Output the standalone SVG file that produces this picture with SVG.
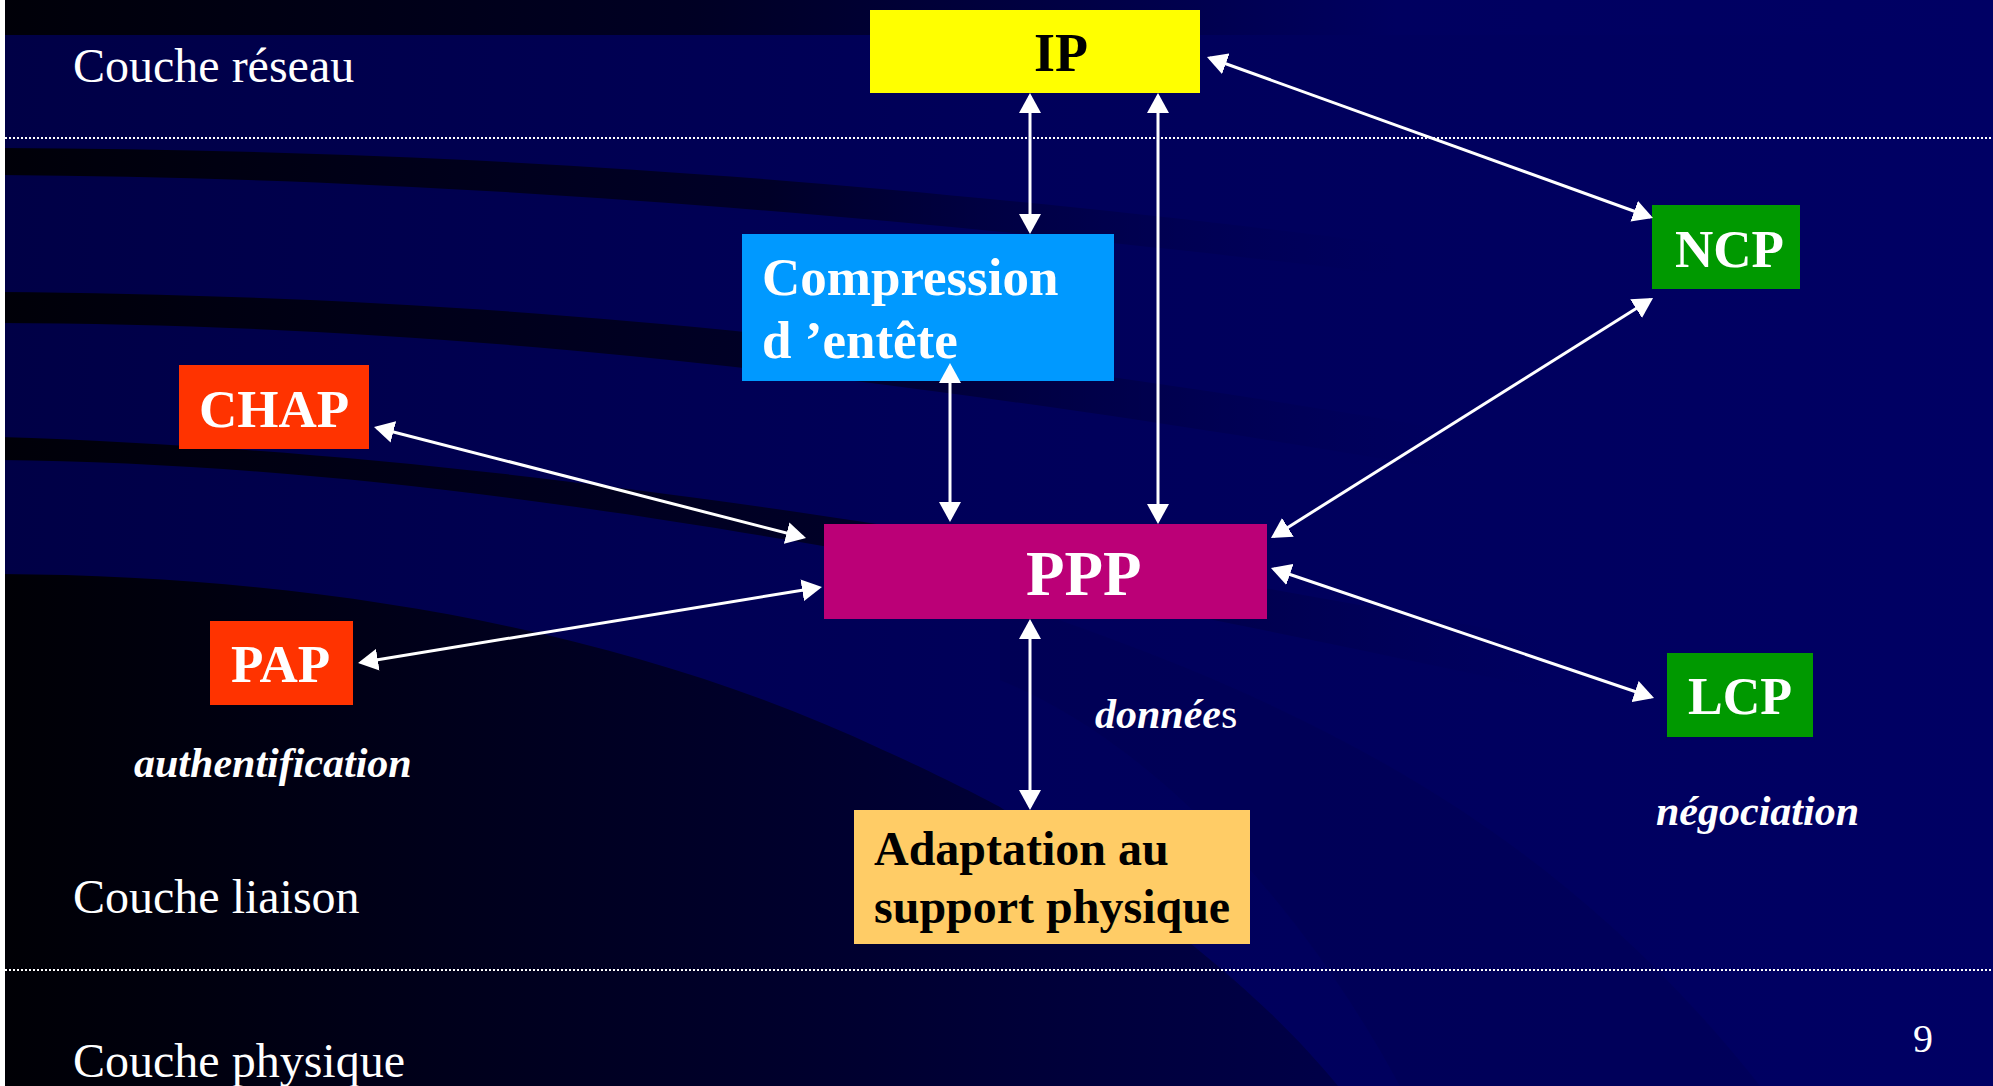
<svg xmlns="http://www.w3.org/2000/svg" width="1993" height="1086" viewBox="0 0 1993 1086">
<style>
.lbl{font-family:"Liberation Serif","Times New Roman",serif;fill:#fff}
.layer{font-size:48px}
.bx{font-family:"Liberation Serif","Times New Roman",serif;font-weight:bold}
.w{fill:#fff}
.k{fill:#000}
.it{font-family:"Liberation Serif","Times New Roman",serif;font-weight:bold;font-style:italic;font-size:42px;fill:#fff}
.conn line{stroke:#fff;stroke-width:3;fill:none;marker-start:url(#ah);marker-end:url(#ah)}
.dot{stroke:#fff;stroke-width:2;stroke-dasharray:2 2}
</style>
<defs>
<marker id="ah" viewBox="0 0 20 22" refX="17" refY="11" markerWidth="20" markerHeight="22" markerUnits="userSpaceOnUse" orient="auto-start-reverse">
<path d="M0,0 L20,11 L0,22 Z" fill="#fff"/>
</marker>
<linearGradient id="bg" x1="0" y1="0" x2="1" y2="0">
<stop offset="0" stop-color="#000046"/>
<stop offset="0.5" stop-color="#00005a"/>
<stop offset="1" stop-color="#000064"/>
</linearGradient>
<linearGradient id="top" x1="0" y1="0" x2="1" y2="0">
<stop offset="0" stop-color="#000008"/>
<stop offset="0.35" stop-color="#000024"/>
<stop offset="0.7" stop-color="#000060"/>
<stop offset="1" stop-color="#000064"/>
</linearGradient>
<linearGradient id="stripe" x1="0" y1="0" x2="1" y2="0">
<stop offset="0" stop-color="#000008" stop-opacity="1"/>
<stop offset="0.55" stop-color="#000028" stop-opacity="1"/>
<stop offset="1" stop-color="#000050" stop-opacity="0"/>
</linearGradient>
<linearGradient id="dark" x1="0" y1="0" x2="1" y2="0">
<stop offset="0" stop-color="#000005"/>
<stop offset="0.5" stop-color="#000026"/>
<stop offset="1" stop-color="#000048"/>
</linearGradient>
</defs>
<g id="background">
<rect x="0" y="0" width="1993" height="1086" fill="url(#bg)"/>
<rect x="0" y="0" width="1993" height="35" fill="url(#top)"/>
<path d="M0,148 C400,150 800,170 1400,245 L1400,275 C800,205 400,178 0,175 Z" fill="url(#stripe)"/>
<path d="M0,292 C400,296 800,320 1450,430 L1450,470 C800,360 400,325 0,323 Z" fill="url(#stripe)"/>
<path d="M0,437 C400,450 800,500 1550,640 L1550,690 C800,530 400,465 0,460 Z" fill="url(#stripe)"/>
<path d="M1000,600 C1300,700 1550,820 1760,1086 L1400,1086 C1300,900 1150,740 1000,680 Z" fill="#000048" opacity="0.25"/>
<path d="M0,574 C350,576 650,640 883,750 C950,780 1000,807 1000,807 C1080,860 1190,943 1190,943 C1260,1000 1300,1040 1338,1086 L0,1086 Z" fill="url(#dark)"/>
<rect x="0" y="0" width="5" height="1086" fill="#fff"/>
<line class="dot" x1="5" y1="138" x2="1993" y2="138"/>
<line class="dot" x1="5" y1="970" x2="1993" y2="970"/>
</g>
<g id="layer-labels">
<text class="lbl layer" x="73" y="82">Couche réseau</text>
<text class="lbl layer" x="73" y="913">Couche liaison</text>
<text class="lbl layer" x="73" y="1077">Couche physique</text>
<text class="lbl" x="1913" y="1052" font-size="40">9</text>
</g>
<g id="node-ip">
<rect x="870" y="10" width="330" height="83" fill="#ffff00"/>
<text class="bx k" x="1034" y="71" font-size="54">IP</text>
</g>
<g id="node-compression">
<rect x="742" y="234" width="372" height="147" fill="#0099ff"/>
<text class="bx w" x="762" y="295" font-size="53">Compression</text>
<text class="bx w" x="762" y="358" font-size="53">d ’entête</text>
</g>
<g id="node-chap">
<rect x="179" y="365" width="190" height="84" fill="#ff3300"/>
<text class="bx w" x="199" y="427" font-size="53">CHAP</text>
</g>
<g id="node-pap">
<rect x="210" y="621" width="143" height="84" fill="#ff3300"/>
<text class="bx w" x="231" y="682" font-size="53">PAP</text>
</g>
<g id="node-ppp">
<rect x="824" y="524" width="443" height="95" fill="#bb0077"/>
<text class="bx w" x="1026" y="595" font-size="63">PPP</text>
</g>
<g id="node-ncp">
<rect x="1652" y="205" width="148" height="84" fill="#009900"/>
<text class="bx w" x="1675" y="267" font-size="53">NCP</text>
</g>
<g id="node-lcp">
<rect x="1667" y="653" width="146" height="84" fill="#009900"/>
<text class="bx w" x="1688" y="714" font-size="52">LCP</text>
</g>
<g id="node-adaptation">
<rect x="854" y="810" width="396" height="134" fill="#ffcc66"/>
<text class="bx k" x="874" y="865" font-size="48">Adaptation au</text>
<text class="bx k" x="874" y="923" font-size="48">support physique</text>
</g>
<g id="annotations">
<text class="it" x="134" y="777">authentification</text>
<text class="it" x="1095" y="728">donnée<tspan font-style="normal" font-weight="normal">s</tspan></text>
<text class="it" x="1656" y="825">négociation</text>
</g>
<g id="connectors" class="conn">
<line x1="1030" y1="96" x2="1030" y2="231"/>
<line x1="1158" y1="96" x2="1158" y2="521"/>
<line x1="950" y1="366" x2="950" y2="519"/>
<line x1="1209.8" y1="58" x2="1650.2" y2="217"/>
<line x1="1650.5" y1="299.6" x2="1273.5" y2="536.4"/>
<line x1="1273.8" y1="569" x2="1651.2" y2="697"/>
<line x1="376.9" y1="427.7" x2="803.1" y2="537.3"/>
<line x1="361" y1="662.5" x2="819" y2="587.5"/>
<line x1="1030" y1="622" x2="1030" y2="807"/>
</g>
</svg>
